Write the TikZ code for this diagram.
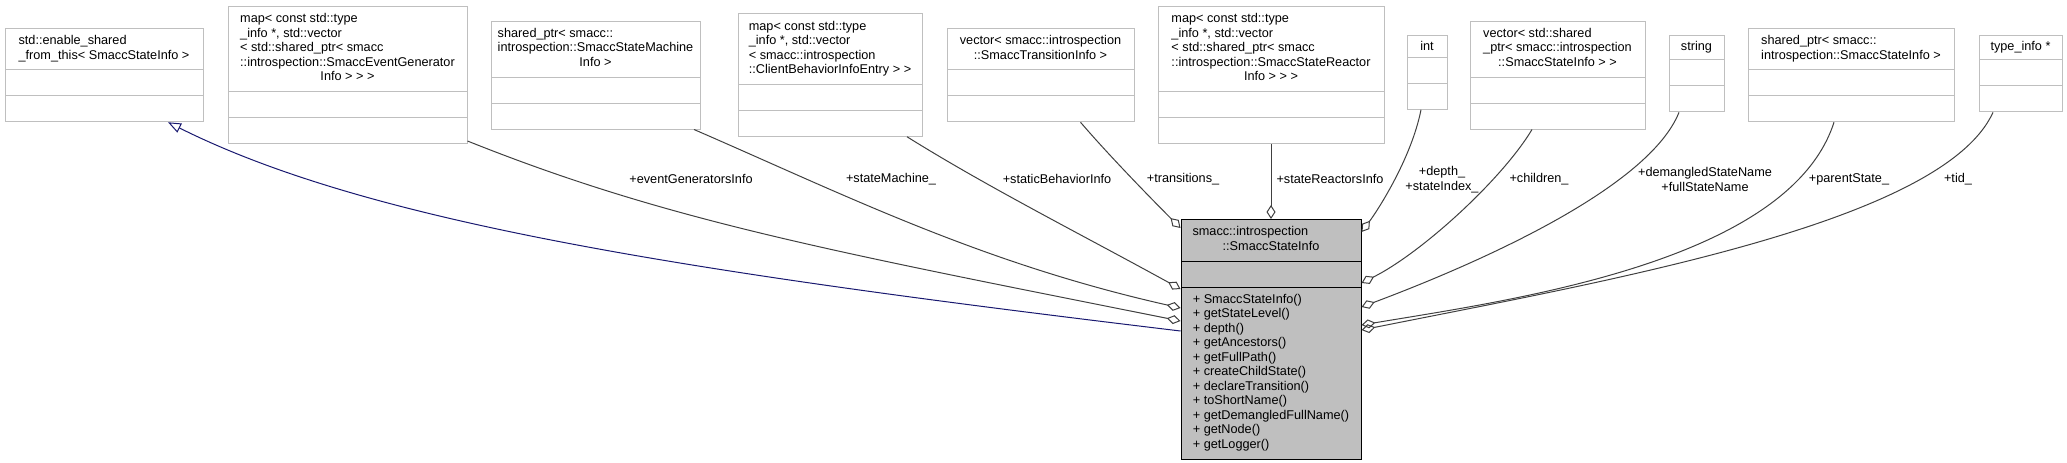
\documentclass[tikz,border=0pt]{standalone}
\usepackage{fontspec}
\setmainfont{Liberation Sans}
\usetikzlibrary{positioning,calc,arrows.meta,shapes.multipart}
\definecolor{grey75}{HTML}{BFBFBF}
\definecolor{grey25}{HTML}{404040}
\definecolor{midblue}{HTML}{191970}
\tikzset{
  cls/.style   = {rectangle split, rectangle split parts=3,
                  rectangle split ignore empty parts=false,
                  rectangle split empty part height=13.5pt,
                  rectangle split empty part depth=0pt,
                  draw=grey75, fill=white, line width=1pt,
                  inner xsep=0pt, inner ysep=5.75pt, anchor=north,
                  font=\fontsize{12.7}{14.5}\selectfont},
  mcls/.style  = {cls, draw=black, fill=grey75},
  uedge/.style = {line width=1pt, draw=grey25,
                  -{Diamond[open, length=14pt, width=9pt]}},
  iedge/.style = {line width=1pt, draw=midblue,
                  -{Triangle[open, length=13pt, width=10pt]}},
  elbl/.style  = {font=\fontsize{12.7}{14.5}\selectfont, align=center,
                  inner sep=0pt},
}

\begin{document}
\begin{tikzpicture}[x=1pt,y=-1pt]
  \useasboundingbox (0,0) rectangle (2067,463);
  % top row
  \node[cls, minimum width=198] (base) at (104,27.75)
    {\begin{tabular}{@{}l@{}}std::enable\_shared\\\_from\_this< SmaccStateInfo >\end{tabular}};
  \node[cls, minimum width=239] (evgen) at (347.5,6)
    {\begin{tabular}{@{}l@{}}map< const std::type\\\_info *, std::vector\\< std::shared\_ptr< smacc\\::introspection::SmaccEventGenerator\\\multicolumn{1}{@{}c@{}}{Info > > >}\end{tabular}};
  \node[cls, minimum width=209] (sm) at (595.5,20.5)
    {\begin{tabular}{@{}l@{}}shared\_ptr< smacc::\\introspection::SmaccStateMachine\\\multicolumn{1}{@{}c@{}}{Info >}\end{tabular}};
  \node[cls, minimum width=184] (cbinfo) at (830,13.25)
    {\begin{tabular}{@{}l@{}}map< const std::type\\\_info *, std::vector\\< smacc::introspection\\::ClientBehaviorInfoEntry > >\end{tabular}};
  \node[cls, minimum width=187] (trans) at (1040.5,27.75)
    {\begin{tabular}{@{}l@{}}vector< smacc::introspection\\\multicolumn{1}{@{}c@{}}{::SmaccTransitionInfo >}\end{tabular}};
  \node[cls, minimum width=226] (reactors) at (1271,6)
    {\begin{tabular}{@{}l@{}}map< const std::type\\\_info *, std::vector\\< std::shared\_ptr< smacc\\::introspection::SmaccStateReactor\\\multicolumn{1}{@{}c@{}}{Info > > >}\end{tabular}};
  \node[cls, minimum width=40] (idx) at (1427,35) {int};
  \node[cls, minimum width=175] (kids) at (1557.5,20.5)
    {\begin{tabular}{@{}l@{}}vector< std::shared\\\_ptr< smacc::introspection\\\multicolumn{1}{@{}c@{}}{::SmaccStateInfo > >}\end{tabular}};
  \node[cls, minimum width=55] (names) at (1696.5,35) {string};
  \node[cls, minimum width=206] (parent) at (1851,27.75)
    {\begin{tabular}{@{}l@{}}shared\_ptr< smacc::\\introspection::SmaccStateInfo >\end{tabular}};
  \node[cls, minimum width=83] (tinfo) at (2020.5,35) {type\_info *};
  % the documented class
  \node[mcls, minimum width=180] (main) at (1271,219)
    {\begin{tabular}{@{}p{157pt}@{}}smacc::introspection\\\multicolumn{1}{@{}c@{}}{::SmaccStateInfo}\end{tabular}
     \nodepart{three}
     \begin{tabular}{@{}l@{}}+ SmaccStateInfo()\\+ getStateLevel()\\+ depth()\\+ getAncestors()\\+ getFullPath()\\+ createChildState()\\+ declareTransition()\\+ toShortName()\\+ getDemangledFullName()\\+ getNode()\\+ getLogger()\end{tabular}};
  % inheritance
  \draw[iedge] ($(main.north west)+(0,112)$)..controls+(-500,-60)and+(200,100)..($(base.south)+(64,0)$);
  % members, left side
  \draw[uedge] ($(evgen.south east)+(0,-3)$)..controls+(200,80)and+(-350,-70)..($(main.north west)+(0,102)$);
  \draw[uedge] ($(sm.south)+(98.5,0)$)..controls+(150,65)and+(-200,-45)..($(main.north west)+(0,89)$);
  \draw[uedge] ($(cbinfo.south)+(77,0)$)..controls+(80,50)and+(-100,-55)..($(main.north west)+(0,70)$);
  \draw[uedge] ($(trans.south)+(40,0)$)..controls+(30,35)and+(-25,-25)..($(main.north west)+(0,9)$);
  \draw[uedge] (reactors.south)--(main.north);
  % members, right side
  \draw[uedge] ($(idx.south)+(-6,0)$)..controls+(-10,50)and+(15,-20)..($(main.north east)+(0,13)$);
  \draw[uedge] ($(kids.south)+(-25.5,0)$)..controls+(-30,50)and+(60,-30)..($(main.north east)+(0,64)$);
  \draw[uedge] ($(names.south)+(-17.5,0)$)..controls+(-30,75)and+(120,-45)..($(main.north east)+(0,88)$);
  \draw[uedge] ($(parent.south)+(-17,0)$)..controls+(-45,140)and+(150,-25)..($(main.north east)+(0,106)$);
  \draw[uedge] ($(tinfo.south)+(-27.5,0)$)..controls+(-50,110)and+(250,-50)..($(main.north east)+(0,111)$);
  % edge labels
  \node[elbl] (levgen) at (691,179) {+eventGeneratorsInfo};
  \node[elbl] (lsm) at (891,179) {+stateMachine\_};
  \node[elbl] (lcb) at (1057,179) {+staticBehaviorInfo};
  \node[elbl] (ltrans) at (1183,179) {+transitions\_};
  \node[elbl] (lreact) at (1330,179) {+stateReactorsInfo};
  \node[elbl] (lidx) at (1442,179.5) {+depth\_\\+stateIndex\_};
  \node[elbl] (lkids) at (1539,179) {+children\_};
  \node[elbl] (lnames) at (1705,179.5) {+demangledStateName\\+fullStateName};
  \node[elbl] (lparent) at (1849,179) {+parentState\_};
  \node[elbl] (ltid) at (1958,179) {+tid\_};
\end{tikzpicture}
\end{document}
